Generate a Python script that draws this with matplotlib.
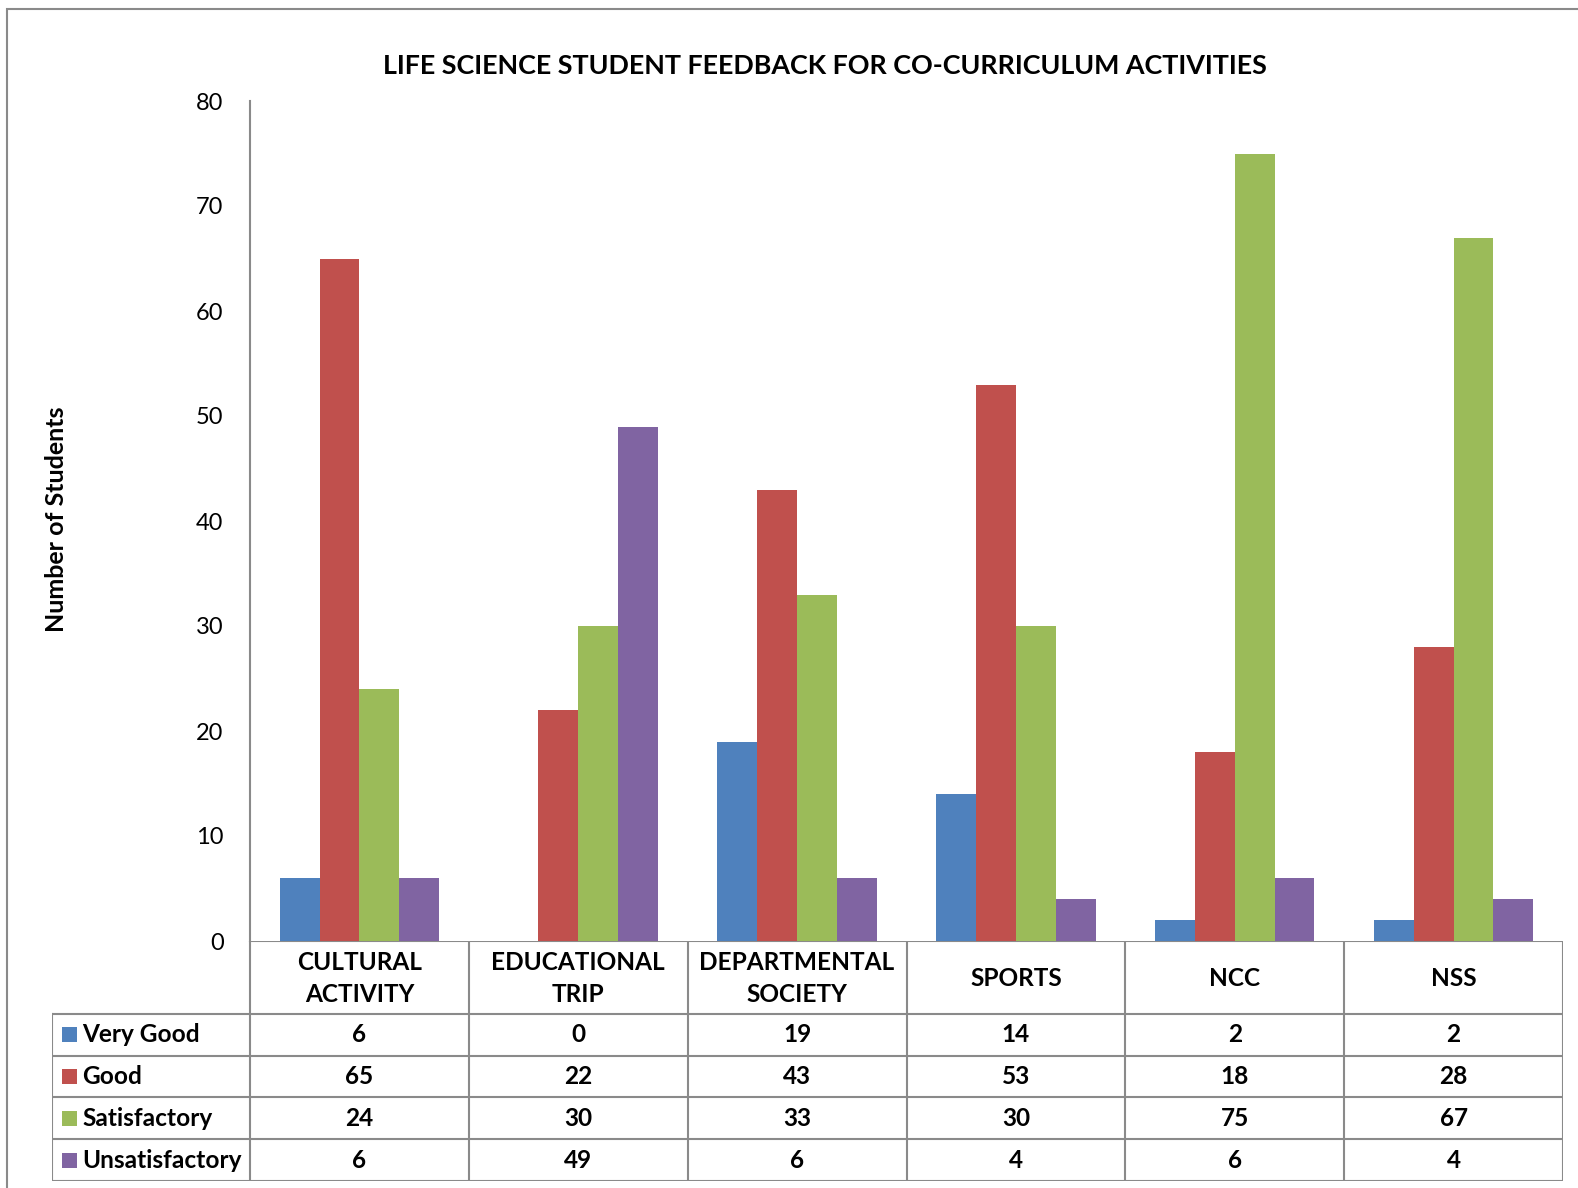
import numpy as np
import matplotlib.pyplot as plt
from matplotlib.patches import Rectangle

plt.rcParams['font.family'] = ['Lato', 'DejaVu Sans']

# data
activities = ["CULTURAL\nACTIVITY", "EDUCATIONAL\nTRIP", "DEPARTMENTAL\nSOCIETY",
              "SPORTS", "NCC", "NSS"]
ratings = ["Very Good", "Good", "Satisfactory", "Unsatisfactory"]
very_good = [6, 0, 19, 14, 2, 2]
good = [65, 22, 43, 53, 18, 28]
satisfactory = [24, 30, 33, 30, 75, 67]
unsatisfactory = [6, 49, 6, 4, 6, 4]
colors = ["#4F81BD", "#C0504D", "#9BBB59", "#8064A2"]

series = [very_good, good, satisfactory, unsatisfactory]

W, H = 1578, 1188
fig = plt.figure(figsize=(W / 100, H / 100), dpi=100)


def box(l, t, r, b):
    # pixel box -> figure fraction rect
    return [l / W, 1 - b / H, (r - l) / W, (b - t) / H]


grey = "#8a8a8a"

# outer frame of the chart area
fig.add_artist(Rectangle((7 / W, -0.1), 1.2, 1 - 9 / H + 0.1, transform=fig.transFigure,
                         fill=False, edgecolor=grey, lw=1.5))

ax = fig.add_axes(box(250, 101, 1563, 941))
x = np.arange(len(activities))
bw = 0.182
for j, vals in enumerate(series):
    ax.bar(x + 0.5 + (j - 1.5) * bw, vals, bw, color=colors[j], lw=0)

ax.set_xlim(0, len(activities))
ax.set_ylim(0, 80)
ax.set_yticks(range(0, 81, 10))
ax.set_xticks([])
for s in ["top", "right", "bottom"]:
    ax.spines[s].set_visible(False)
ax.spines["left"].set_color(grey)
ax.spines["left"].set_linewidth(1.5)
ax.tick_params(axis="y", length=0, pad=19, labelsize=17)

fig.text(825 / W, 1 - 66 / H, "LIFE SCIENCE STUDENT FEEDBACK FOR CO-CURRICULUM ACTIVITIES",
         ha="center", va="center", fontsize=19.4, fontweight="bold")
fig.text(57 / W, 1 - 519 / H, "Number of Students", rotation=90,
         ha="center", va="center", fontsize=18, fontweight="bold")

# data table under the bars
tab = fig.add_axes(box(52, 941, 1563, 1181))
tab.set_axis_off()
n = len(activities)
legw = n * (250 - 52) / (1563 - 250)
upx = (1563 - 250) / n          # pixels per category unit
hdr = 73 / 42.0                 # header height in row units
nrow = len(ratings)
tab.set_xlim(-legw, n)
tab.set_ylim(hdr + nrow, 0)

lk = dict(color=grey, lw=1.5, solid_capstyle="projecting")
tab.plot([0, n], [0, 0], **lk)
for k in range(nrow + 1):
    tab.plot([-legw, n], [hdr + k, hdr + k], **lk)
for i in range(n + 1):
    tab.plot([i, i], [0, hdr + nrow], **lk)
tab.plot([-legw, -legw], [hdr, hdr + nrow], **lk)

fs = 17.6
for i, name in enumerate(activities):
    tab.text(i + 0.5, hdr / 2 + 0.03, name, ha="center", va="center", fontsize=fs,
             fontweight="bold", linespacing=1.5)
    for k, vals in enumerate(series):
        tab.text(i + 0.5, hdr + k + 0.5, str(vals[i]), ha="center", va="center",
                 fontsize=fs, fontweight="bold")

for k, lab in enumerate(ratings):
    tab.add_patch(Rectangle((-legw + 10 / upx, hdr + k + 0.5 - 7.5 / 42), 15 / upx, 15 / 42,
                            color=colors[k], lw=0))
    tab.text(-legw + 30 / upx, hdr + k + 0.5, lab, ha="left", va="center",
             fontsize=fs, fontweight="bold")

fig.savefig("out.png", dpi=100)
